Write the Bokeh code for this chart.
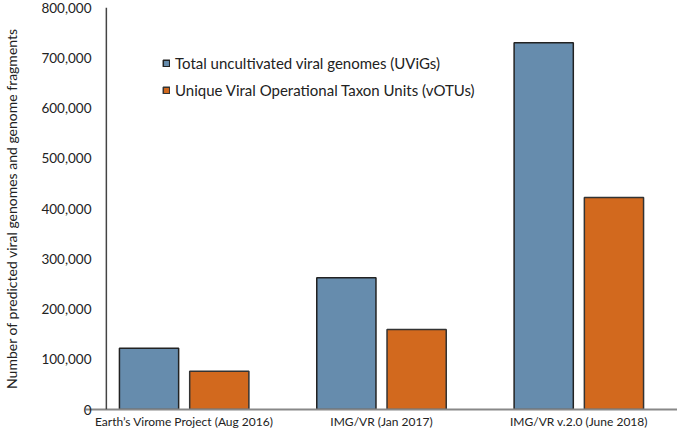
import numpy as np
from bokeh.plotting import figure
from bokeh.models import (ColumnDataSource, Range1d, FixedTicker, NumeralTickFormatter,
                          Span, Legend, LegendItem)
from bokeh.embed import file_html
from bokeh.resources import INLINE

categories = ["Earth\u2019s Virome Project (Aug 2016)", "IMG/VR (Jan 2017)", "IMG/VR v.2.0 (June 2018)"]
series_names = ["Total uncultivated viral genomes (UViGs)", "Unique Viral Operational Taxon Units (vOTUs)"]
uvigs = [122000, 262000, 730000]
votus = [76000, 159000, 422000]
y_ticks = [0, 100000, 200000, 300000, 400000, 500000, 600000, 700000, 800000]

BLUE = "#668CAD"
ORANGE = "#D2691E"
FONT = "Lato"

centers = np.arange(len(categories)) + 0.5
off = 0.178
bw = 0.30

src1 = ColumnDataSource(dict(x=centers - off, top=uvigs))
src2 = ColumnDataSource(dict(x=centers + off, top=votus))

W, H, LEFT = 677, 431, 81
p = figure(width=W, height=H, output_backend="svg", toolbar_location=None,
           x_range=Range1d(0, len(categories)), y_range=Range1d(0, 800000),
           min_border_left=LEFT, min_border_right=0, min_border_top=7, min_border_bottom=0)
p.outline_line_color = None
p.xgrid.visible = False
p.ygrid.visible = False

r1 = p.vbar(x="x", top="top", width=bw, source=src1, fill_color=BLUE,
            line_color="#222222", line_width=1.5)
r2 = p.vbar(x="x", top="top", width=bw, source=src2, fill_color=ORANGE,
            line_color="#333333", line_width=1.5)

# y-axis line, drawn slightly inside the frame as in the reference
p.add_layout(Span(location=21 / ((W - LEFT) / 3), dimension="height",
                  line_color="#444444", line_width=1.5))

ya = p.yaxis[0]
ya.ticker = FixedTicker(ticks=y_ticks)
ya.formatter = NumeralTickFormatter(format="0,0")
ya.axis_line_color = None
ya.major_tick_line_color = None
ya.minor_tick_line_color = None
ya.major_label_standoff = -12
ya.major_label_text_font = FONT
ya.major_label_text_font_size = "13.5px"
ya.major_label_text_color = "#222222"
ya.axis_label = "Number of predicted viral genomes and genome fragments"
ya.axis_label_text_font = FONT
ya.axis_label_text_font_style = "normal"
ya.axis_label_text_font_size = "14px"
ya.axis_label_text_color = "#222222"
ya.axis_label_standoff = 18

xa = p.xaxis[0]
xa.ticker = FixedTicker(ticks=list(centers))
xa.major_label_overrides = {float(c): cat for c, cat in zip(centers, categories)}
xa.axis_label = None
xa.axis_line_color = "#888888"
xa.axis_line_width = 2
xa.major_tick_line_color = None
xa.minor_tick_line_color = None
xa.major_tick_out = 0
xa.major_tick_in = 0
xa.minor_tick_out = 0
xa.minor_tick_in = 0
xa.major_label_standoff = 4
xa.major_label_text_font = FONT
xa.major_label_text_font_size = "12px"
xa.major_label_text_color = "#222222"

legend = Legend(items=[LegendItem(label=series_names[0], renderers=[r1]),
                       LegendItem(label=series_names[1], renderers=[r2])],
                location=(77, 310))
legend.glyph_width = 8
legend.glyph_height = 8
legend.label_text_font = FONT
legend.label_text_font_size = "15px"
legend.label_text_color = "#222222"
legend.spacing = 9
legend.border_line_color = None
legend.background_fill_alpha = 0
legend.label_standoff = 5
p.add_layout(legend)

open("out.html", "w").write(file_html(p, INLINE))
